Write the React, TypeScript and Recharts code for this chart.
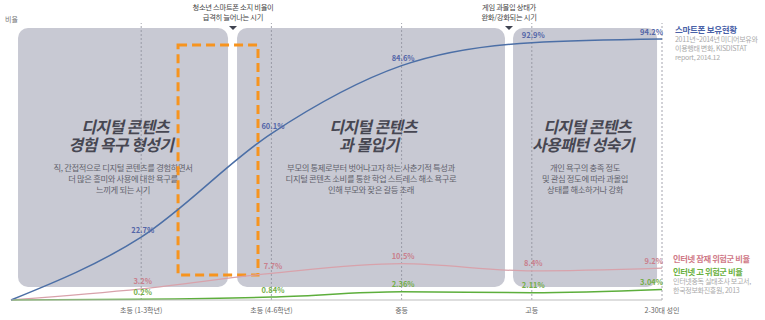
import React from 'react';
import {
  LineChart,
  Line,
  XAxis,
  YAxis,
  ReferenceArea,
  ReferenceLine,
  ReferenceDot,
} from 'recharts';

// Life stages on the x axis
const stages = ['초등 (1-3학년)', '초등 (4-6학년)', '중등', '고등', '2-30대 성인'];

// Smartphone ownership (%)
const phoneOwnership = [22.7, 60.1, 84.6, 92.9, 94.2];
// Internet addiction – latent-risk group (%)
const latentRisk = [3.2, 7.7, 10.5, 8.4, 9.2];
// Internet addiction – high-risk group (%)
const highRisk = [0.2, 0.84, 2.36, 2.11, 3.04];

// Phase panels: headline and short explanation
const phaseTitles = [
  ['디지털 콘텐츠', '경험 욕구 형성기'],
  ['디지털 콘텐츠', '과 몰입기'],
  ['디지털 콘텐츠', '사용패턴 성숙기'],
];
const phaseNotes = [
  ['직, 간접적으로 디지털 콘텐츠를 경험하면서', '더 많은 흥미와 사용에 대한 욕구를', '느끼게 되는 시기'],
  ['부모의 통제로부터 벗어나고자 하는 사춘기적 특성과', '디지털 콘텐츠 소비를 통한 학업 스트레스 해소 욕구로', '인해 부모와 잦은 갈등 초래'],
  ['개인 욕구의 충족 정도', '및 관심 정도에 따라 과몰입', '상태를 해소하거나 강화'],
];

// Transition call-outs between phases
const transitionNotes = [
  ['청소년 스마트폰 소지 비율이', '급격히 늘어나는 시기'],
  ['게임 과몰입 상태가', '완화/강화되는 시기'],
];

// Series names and sources
const phoneSeriesName = '스마트폰 보유현황';
const phoneSource = ['2011년~2014년 미디어보유와', '이용행태 변화, KISDISTAT', 'report, 2014.12'];
const latentSeriesName = '인터넷 잠재 위험군 비율';
const highSeriesName = '인터넷 고 위험군 비율';
const riskSource = ['인터넷중독 실태조사 보고서,', '한국정보화진흥원, 2013'];

// Every series starts from the origin, then one point per stage
const rows = [
  { pos: 0, phone: 0, latent: 0, high: 0 },
  ...stages.map((stage, i) => ({
    pos: i + 1,
    stage,
    phone: phoneOwnership[i],
    latent: latentRisk[i],
    high: highRisk[i],
  })),
];

// ---- layout (axis units) ----
const PHASE_SPANS: [number, number][] = [
  [0.054, 1.667],
  [1.736, 3.794],
  [3.856, 4.962],
];
const PANEL_TOP = 98.2;
const PANEL_BOTTOM = 4.7;
const TRANSITION_X = [1.705, 3.825];
const FOCUS_BOX = { x1: 1.283, x2: 1.897, y1: 9.0, y2: 92.1 };

const FONT = "'Noto Sans CJK KR', 'Noto Sans', sans-serif";
const PANEL_FILL = '#C8C9D3';
const BLUE = '#4C6FA6';
const BLUE_TEXT = '#5466A8';
const RED = '#D8A2AB';
const RED_TEXT = '#C9808D';
const GREEN = '#5DAE3C';
const GREEN_TEXT = '#74AE4A';

const makePanel = (title: string[], note: string[]) => (props: any) => {
  const { x, y, width, height } = props;
  const cx = x + width / 2;
  return (
    <g>
      <rect x={x} y={y} width={width} height={height} rx={10} ry={10} fill={PANEL_FILL} />
      {/* headline, slanted */}
      <g transform={`translate(${cx + 2}, ${y + 105}) skewX(-13)`}>
        <text
          x={0}
          y={0}
          textAnchor="middle"
          fontFamily={FONT}
          fontSize={16}
          fontWeight={700}
          letterSpacing={-0.6}
          fill="#474752"
        >
          {title.map((t, i) => (
            <tspan key={i} x={0} dy={i === 0 ? 0 : 18}>
              {t}
            </tspan>
          ))}
        </text>
      </g>
      <text
        x={cx}
        y={y + 143}
        textAnchor="middle"
        fontFamily={FONT}
        fontSize={8.3}
        letterSpacing={-0.35}
        fill="#62626c"
      >
        {note.map((t, i) => (
          <tspan key={i} x={cx} dy={i === 0 ? 0 : 11}>
            {t}
          </tspan>
        ))}
      </text>
    </g>
  );
};

const makeTransition = (lines: string[]) => (props: any) => {
  const { cx, cy } = props;
  return (
    <g>
      <text
        x={cx}
        y={cy - 13}
        textAnchor="middle"
        fontFamily={FONT}
        fontSize={7.3}
        letterSpacing={-0.3}
        fill="#444"
      >
        {lines.map((t, i) => (
          <tspan key={i} x={cx} dy={i === 0 ? 0 : 10}>
            {t}
          </tspan>
        ))}
      </text>
      <polygon points={`${cx - 4},${cy + 3} ${cx + 4},${cy + 3} ${cx},${cy + 7}`} fill="#3f4350" />
    </g>
  );
};

const makeValueLabel = (color: string) => (props: any) => {
  const { x, y, value, index } = props;
  if (index === 0) return null;
  const last = index === stages.length;
  return (
    <text
      x={last ? x + 1 : x + 1.5}
      y={y - 4.5}
      textAnchor={last ? 'end' : 'middle'}
      fontFamily={FONT}
      fontSize={7.5}
      fontWeight={700}
      fill={color}
    >
      {`${value}%`}
    </text>
  );
};

const SourceLines = ({ x, y, lines, step }: { x: number; y: number; lines: string[]; step: number }) => (
  <text x={x} y={y} fontSize={7} fill="#aaa" letterSpacing={-0.3}>
    {lines.map((t, i) => (
      <tspan key={i} x={x} dy={i === 0 ? 0 : step}>
        {t}
      </tspan>
    ))}
  </text>
);

export default function App() {
  return (
    <div style={{ position: 'absolute', left: 0, top: 0, width: 765, height: 320, background: '#fff' }}>
      <LineChart
        width={765}
        height={320}
        data={rows}
        margin={{ top: 23, right: 103, bottom: 0, left: 11 }}
      >
        <XAxis
          dataKey="pos"
          type="number"
          domain={[0, 5]}
          ticks={[1, 2, 3, 4, 5]}
          interval={0}
          height={20}
          tickLine={false}
          axisLine={{ stroke: '#bdbdbd' }}
          tickFormatter={(v: number) => stages[v - 1] ?? ''}
          tick={{ fontSize: 7, fill: '#666', fontFamily: FONT }}
        />
        <YAxis
          yAxisId="phone"
          domain={[0, 100]}
          width={0}
          tick={false}
          tickLine={false}
          axisLine={{ stroke: '#b5b5b5' }}
        />
        <YAxis yAxisId="risk" domain={[0, 80]} hide />

        {PHASE_SPANS.map(([a, b], i) => (
          <ReferenceArea
            key={'phase' + i}
            yAxisId="phone"
            x1={a}
            x2={b}
            y1={PANEL_BOTTOM}
            y2={PANEL_TOP}
            shape={makePanel(phaseTitles[i], phaseNotes[i])}
          />
        ))}

        {stages.map((s, i) => (
          <ReferenceLine
            key={'grid' + i}
            yAxisId="phone"
            x={i + 1}
            stroke="#8d8e9a"
            strokeDasharray="2 2"
            strokeWidth={0.8}
          />
        ))}

        {transitionNotes.map((lines, i) => (
          <ReferenceDot
            key={'tr' + i}
            yAxisId="phone"
            x={TRANSITION_X[i]}
            y={100}
            r={0}
            shape={makeTransition(lines)}
          />
        ))}

        <ReferenceArea
          yAxisId="phone"
          x1={FOCUS_BOX.x1}
          x2={FOCUS_BOX.x2}
          y1={FOCUS_BOX.y1}
          y2={FOCUS_BOX.y2}
          fill="none"
          fillOpacity={0}
          stroke="#F7941E"
          strokeWidth={3}
          strokeDasharray="9 5"
        />

        <Line
          yAxisId="risk"
          type="monotone"
          dataKey="latent"
          stroke={RED}
          strokeWidth={1.3}
          dot={false}
          activeDot={false}
          isAnimationActive={false}
          label={makeValueLabel(RED_TEXT)}
        />
        <Line
          yAxisId="risk"
          type="monotone"
          dataKey="high"
          stroke={GREEN}
          strokeWidth={1.5}
          dot={false}
          activeDot={false}
          isAnimationActive={false}
          label={makeValueLabel(GREEN_TEXT)}
        />
        <Line
          yAxisId="phone"
          type="monotone"
          dataKey="phone"
          stroke={BLUE}
          strokeWidth={1.5}
          dot={false}
          activeDot={false}
          isAnimationActive={false}
          label={makeValueLabel(BLUE_TEXT)}
        />
      </LineChart>

      <svg
        width={765}
        height={320}
        style={{ position: 'absolute', left: 0, top: 0, pointerEvents: 'none' }}
        fontFamily={FONT}
      >
        <text x={5} y={21.5} fontSize={7} fill="#777">비율</text>

        <text x={675} y={33} fontSize={8.5} fontWeight={700} fill="#4A62A8" letterSpacing={-0.3}>
          {phoneSeriesName}
        </text>
        <SourceLines x={675} y={42} lines={phoneSource} step={9} />

        <text x={673} y={262} fontSize={8.3} fontWeight={700} fill="#D07A88" letterSpacing={-0.4}>
          {latentSeriesName}
        </text>
        <text x={673} y={274.5} fontSize={8.3} fontWeight={700} fill="#6AB040" letterSpacing={-0.4}>
          {highSeriesName}
        </text>
        <SourceLines x={673} y={284} lines={riskSource} step={8.5} />
      </svg>
    </div>
  );
}
